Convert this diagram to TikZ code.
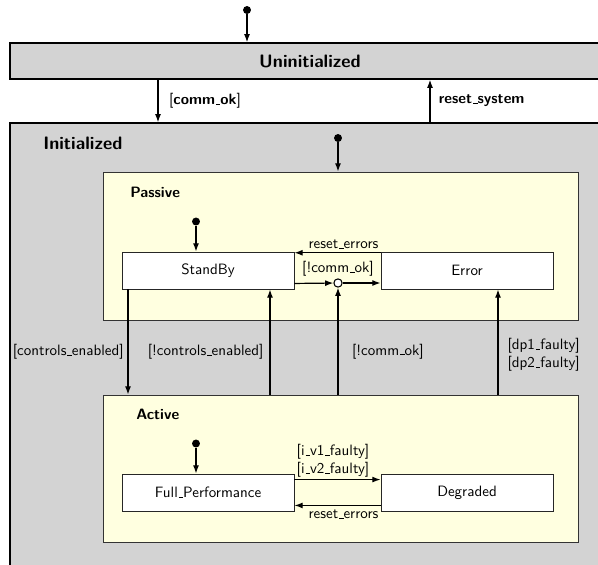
\documentclass[tikz,border=0pt]{standalone}
\usepackage{tikz}
\usetikzlibrary{calc,arrows.meta,positioning}
\definecolor{stategray}{HTML}{D3D3D3}
\definecolor{stateyellow}{HTML}{FFFFE0}
\newcommand{\uscore}{\leavevmode\kern.06em\vbox{\hrule width .3em}}

\begin{document}
\begin{tikzpicture}[x=0.6667pt,y=-0.6667pt,font=\sffamily,
	>={Latex[length=5.5pt,width=4pt]},
	superstate/.style={draw=black,line width=0.9pt,fill=stategray,inner sep=0pt},
	substate/.style={draw=black!80,line width=0.6pt,fill=stateyellow,inner sep=0pt,minimum width=316.67pt},
	statename/.style={anchor=west,inner sep=0pt,font=\sffamily\bfseries},
	leaf/.style={draw=black!85,line width=0.6pt,fill=white,minimum width=114.67pt,minimum height=24.67pt},
	initial/.style={circle,fill=black,inner sep=0pt,minimum size=5.3pt},
	junction/.style={circle,draw=black,line width=0.7pt,fill=white,inner sep=0pt,minimum size=5.5pt},
	trans/.style={->,line width=0.8pt},
	guard/.style={inner sep=1pt}]
	\useasboundingbox (0,0) rectangle (598,565);
	\def\rowup{270.5}
	\def\rowdown{492.5}
	% outer states
	\node[superstate,minimum width=400pt,minimum height=24pt] (uninit) at (310,61) {\large\bfseries Uninitialized};
	\node[superstate,minimum width=406.67pt,minimum height=318pt] (init) at (315,361.5) {};
	\node[statename,font=\sffamily\large\bfseries] (initname) at (43,143) {Initialized};
	\node[initial] (start) at (247,10) {};
	\draw[trans] (start) -- (start |- uninit.north);
	\coordinate (xok) at (158,0);
	\coordinate (xreset) at (430,0);
	\draw[trans] (uninit.south -| xok) -- node[guard,right,xshift=6pt] (gok) {[\textbf{comm\uscore ok}]} (init.north -| xok);
	\draw[trans] (init.north -| xreset) -- node[guard,right,xshift=4.5pt] (greset) {\textbf{reset\uscore system}} (uninit.south -| xreset);
	% Passive and Active
	\node[initial] (initstart) at (338,138) {};
	\node[substate,minimum height=98.67pt] (passive) at (340.5,246) {};
	\node[statename] (passivename) at (130,192) {Passive};
	\node[substate,minimum height=98pt] (active) at (340.5,468.5) {};
	\node[statename] (activename) at (136,414) {Active};
	\draw[trans] (initstart) -- (initstart |- passive.north);
	% leaves
	\node[leaf] (standby) at (208,\rowup) {StandBy};
	\node[leaf] (error) at (467,\rowup) {Error};
	\node[leaf] (full) at (208,\rowdown) {Full\uscore Performance};
	\node[leaf] (degraded) at (467,\rowdown) {Degraded};
	\node[initial] (passstart) at (196,221.5) {};
	\node[initial] (actstart) at (196,443.5) {};
	\draw[trans] (passstart) -- (passstart |- standby.north);
	\draw[trans] (actstart) -- (actstart |- full.north);
	% inside Passive
	\node[junction] (junc) at (338,283) {};
	\node[guard,above=0pt of junc] (gnocomm) {[!comm\uscore ok]};
	\draw[trans] ([yshift=-0.8pt]error.north west) -- node[guard,above,xshift=4pt,yshift=1.5pt] (gresetp) {reset\uscore errors} ([yshift=-0.8pt]standby.north east);
	\draw[trans] ([yshift=4pt]standby.south east) -- (junc);
	\draw[trans] (junc) -- (junc -| error.west);
	% between Passive and Active
	\coordinate (xce) at (128,0);
	\coordinate (xnce) at (270,0);
	\coordinate (xdp) at (498,0);
	\draw[trans] (standby.south -| xce) -- node[guard,left,pos=0.594,xshift=-1.5pt] (gce) {[controls\uscore enabled]} (active.north -| xce);
	\draw[trans] (active.north -| xnce) -- node[guard,left,pos=0.405,xshift=-3pt] (gnce) {[!controls\uscore enabled]} (standby.south -| xnce);
	\draw[trans] (active.north -| junc) -- node[guard,right,pos=0.405,xshift=8pt] (gcomm) {[!comm\uscore ok]} (junc);
	\draw[trans] (active.north -| xdp) -- node[guard,right,pos=0.38,xshift=5pt,align=center] (gdp) {[dp1\uscore faulty]\\{[dp2\uscore faulty]}} (error.south -| xdp);
	% inside Active
	\draw[trans] ([yshift=-4pt]full.north east) -- node[guard,above,xshift=-3pt,align=center] (gfault) {[i\uscore v1\uscore faulty]\\{[i\uscore v2\uscore faulty]}} ([yshift=-4pt]degraded.north west);
	\draw[trans] ([yshift=4pt]degraded.south west) -- node[guard,below,xshift=4pt,yshift=-1.5pt] (gresetq) {reset\uscore errors} ([yshift=4pt]full.south east);
\end{tikzpicture}
\end{document}
